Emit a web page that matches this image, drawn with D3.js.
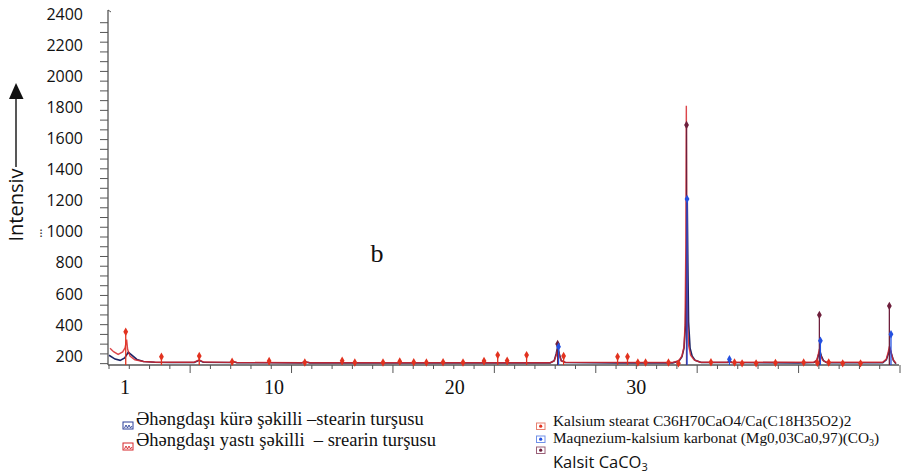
<!DOCTYPE html>
<html>
<head>
<meta charset="utf-8">
<script src="https://cdn.jsdelivr.net/npm/d3@7"></script>
<style>
  body { margin: 0; background: #fff; }
  svg { display: block; }
  .serif { font-family: "Liberation Serif", "Times New Roman", "DejaVu Serif", serif; }
  .sans { font-family: "Open Sans", "Noto Sans", sans-serif; }
</style>
</head>
<body>
<svg id="viz"></svg>
<script>
// 2θ positions / intensities
const kureX = [2.0, 2.6, 3.1, 3.55, 3.9, 4.25, 4.75, 5.4, 6.5, 8, 10.4, 10.9, 11.3, 14, 14.3, 14.6, 18, 21, 21.4, 21.8, 26, 30, 35, 40, 45.5, 45.9, 46.1, 46.25, 46.4, 46.6, 47, 52, 57.6, 58.2, 58.5, 58.7, 58.85, 58.95, 59.02, 59.08, 59.15, 59.3, 59.5, 59.8, 60.4, 63, 63.2, 63.4, 70, 71.5, 71.8, 71.95, 72.1, 72.25, 72.45, 72.8, 78.3, 78.65, 78.85, 79.0, 79.15, 79.35, 79.6];
const kureY = [205, 180, 172, 188, 224, 205, 178, 165, 160, 158, 158, 172, 160, 158, 163, 157, 157, 156, 161, 156, 156, 155, 156, 156, 156, 170, 215, 262, 215, 170, 158, 156, 156, 168, 195, 250, 400, 800, 1200, 800, 420, 250, 200, 172, 158, 158, 172, 158, 156, 158, 170, 205, 232, 200, 170, 157, 157, 175, 215, 250, 215, 172, 150];

const yastiX = [2.1, 2.45, 2.9, 3.35, 3.58, 3.74, 3.84, 4.07, 4.55, 5.4, 6.7, 8, 10.4, 10.9, 11.3, 14, 14.3, 14.6, 21, 21.4, 21.8, 26, 35, 45.5, 45.9, 46.1, 46.25, 46.4, 46.6, 47, 57.6, 58.2, 58.5, 58.7, 58.8, 58.88, 58.93, 58.98, 59.05, 59.15, 59.35, 59.7, 60.3, 71.5, 71.8, 71.95, 72.05, 72.15, 72.35, 72.7, 78.3, 78.65, 78.85, 78.95, 79.1, 79.3, 79.6];
const yastiY = [250, 228, 210, 226, 252, 305, 242, 200, 176, 165, 160, 160, 160, 176, 161, 159, 164, 158, 157, 162, 157, 157, 157, 157, 168, 205, 245, 205, 168, 159, 158, 170, 200, 260, 400, 900, 1810, 900, 420, 270, 205, 175, 160, 160, 175, 215, 245, 210, 175, 160, 160, 180, 230, 262, 230, 180, 152];

// reference lines
const stearatPos = [3.65, 7.17, 10.9, 14.14, 17.79, 21.31, 24.99, 26.24, 29.02, 30.67, 32.05, 33.3, 34.94, 36.91, 38.98, 40.33, 41.26, 43.18, 46.83, 52.15, 53.13, 54.15, 54.91, 57.17, 58.15, 61.36, 63.68, 64.43, 65.81, 67.72, 70.5, 71.85, 72.97, 74.35, 76.11];
const stearatInt = [356, 195, 200, 163, 168, 158, 170, 158, 158, 165, 160, 158, 160, 158, 168, 206, 170, 206, 200, 195, 195, 158, 158, 158, 153, 160, 158, 153, 153, 156, 158, 156, 158, 153, 153];
const mgPos = [46.33, 59.0, 63.18, 72.15, 79.11];
const mgInt = [260, 1210, 179, 298, 340];
const kalsitPos = [46.24, 58.95, 72.05, 78.95];
const kalsitInt = [277, 1686, 464, 522];

const yTickLabels = [200, 400, 600, 800, 1000, 1200, 1400, 1600, 1800, 2000, 2200, 2400];
const xTickLabels = ["1", "10", "20", "30"];
const xTickLabelPos = [3.59, 18.26, 36.09, 53.99];

const width = 903, height = 475;

const svg = d3.select("svg#viz")
	.attr("width", width)
	.attr("height", height);

const x = d3.scaleLinear().domain([2, 80]).range([109, 900]);
const y = d3.scaleLinear().domain([200, 2400]).range([356, 14]);
const baseY = 365;

// axes
const axisColor = "#555";
const axes = svg.append("g").attr("id", "axes");

axes.append("line")
	.attr("x1", 108).attr("x2", 108).attr("y1", 10).attr("y2", baseY)
	.attr("stroke", axisColor).attr("stroke-width", 1.3);
axes.append("line")
	.attr("x1", 108).attr("x2", 899).attr("y1", baseY).attr("y2", baseY)
	.attr("stroke", axisColor).attr("stroke-width", 1.3);
axes.append("line")
	.attr("x1", 108).attr("x2", 111).attr("y1", 10).attr("y2", 12)
	.attr("stroke", axisColor);

// y minor ticks (the underlying instrument scale, not the overlaid labels)
const yMinor = d3.range(2344, 140, -62.66);
axes.selectAll(".ytick").data(yMinor).join("line")
	.attr("class", "ytick")
	.attr("x1", 100).attr("x2", 108)
	.attr("y1", d => y(d)).attr("y2", d => y(d))
	.attr("stroke", axisColor);

const xMinor = d3.range(2, 80.1, 2);
axes.selectAll(".xtick").data(xMinor).join("line")
	.attr("class", "xtick")
	.attr("x1", d => x(d)).attr("x2", d => x(d))
	.attr("y1", baseY).attr("y2", d => d % 10 === 0 ? baseY + 8 : baseY + 4)
	.attr("stroke", axisColor);

axes.selectAll(".ylab").data(yTickLabels).join("text")
	.attr("class", "ylab sans")
	.attr("x", 83).attr("y", d => y(d))
	.attr("dy", "0.36em")
	.attr("text-anchor", "end")
	.attr("font-size", 16)
	.attr("fill", "#111")
	.text(d => d);

axes.append("text")
	.attr("x", 41).attr("y", y(1000) + 5)
	.attr("text-anchor", "middle")
	.attr("font-family", "DejaVu Sans")
	.attr("font-size", 13)
	.attr("fill", "#333")
	.text("⁝");

axes.selectAll(".xlab").data(xTickLabels).join("text")
	.attr("class", "xlab serif")
	.attr("x", (d, i) => x(xTickLabelPos[i]))
	.attr("y", 394)
	.attr("text-anchor", "middle")
	.attr("font-size", 20)
	.attr("fill", "#111")
	.text(d => d);

// Intensiv label with arrow
const ylab = svg.append("g").attr("id", "ylabel");
ylab.append("text")
	.attr("class", "sans")
	.attr("transform", "translate(23,205) rotate(-90)")
	.attr("text-anchor", "middle")
	.attr("font-size", 20)
	.attr("fill", "#111")
	.text("Intensiv");
ylab.append("line")
	.attr("x1", 16).attr("x2", 16).attr("y1", 167).attr("y2", 98)
	.attr("stroke", "#111").attr("stroke-width", 1.4);
ylab.append("path")
	.attr("d", "M16,83 L9,99 L23.5,99 Z")
	.attr("fill", "#111");

// patterns
const plot = svg.append("g").attr("id", "plot");
const line = d3.line().x(d => x(d[0])).y(d => y(d[1]));

plot.append("path")
	.datum(d3.zip(kureX, kureY))
	.attr("fill", "none")
	.attr("stroke", "#1c2566")
	.attr("stroke-width", 1.6)
	.attr("d", line);

plot.append("path")
	.datum(d3.zip(yastiX, yastiY))
	.attr("fill", "none")
	.attr("stroke", "#d6262b")
	.attr("stroke-width", 1.4)
	.attr("stroke-opacity", 0.85)
	.attr("d", line);

// reference sticks + markers
const refs = [
	{pos: kalsitPos, val: kalsitInt, color: "#6e1f3c"},
	{pos: mgPos, val: mgInt, color: "#2450e0"},
	{pos: stearatPos, val: stearatInt, color: "#e2321f"}
];
const diamond = d3.symbol().type(d3.symbolDiamond).size(20);

refs.forEach(r => {
	const g = plot.append("g");
	const pts = d3.zip(r.pos, r.val);
	g.selectAll("line").data(pts).join("line")
		.attr("x1", d => x(d[0])).attr("x2", d => x(d[0]))
		.attr("y1", baseY).attr("y2", d => y(d[1]))
		.attr("stroke", r.color).attr("stroke-width", 1.3);
	g.selectAll("path").data(pts).join("path")
		.attr("transform", d => `translate(${x(d[0])},${y(d[1])})`)
		.attr("d", diamond)
		.attr("fill", r.color);
});

svg.append("text")
	.attr("class", "serif")
	.attr("x", 377).attr("y", 262)
	.attr("text-anchor", "middle")
	.attr("font-size", 26)
	.attr("fill", "#111")
	.text("b");

// legend, left
const legL = svg.append("g").attr("id", "legend-left");
const leftItems = [
	{label: "Əhəngdaşı kürə şəkilli –stearin turşusu", color: "#2a3f9a", y: 425},
	{label: "Əhəngdaşı yastı şəkilli  – srearin turşusu", color: "#d6262b", y: 446}
];
leftItems.forEach(d => {
	legL.append("rect")
		.attr("x", 123).attr("y", d.y - 3).attr("width", 10).attr("height", 7)
		.attr("fill", "#fff").attr("stroke", d.color).attr("stroke-width", 1);
	legL.append("path")
		.attr("d", `M124.5,${d.y + 3} L126,${d.y} L127.5,${d.y + 3} L129,${d.y} L130.5,${d.y + 3} L132,${d.y + 1}`)
		.attr("fill", "none").attr("stroke", d.color).attr("stroke-width", 0.9);
	legL.append("text")
		.attr("class", "serif")
		.attr("x", 136).attr("y", d.y)
		.attr("font-size", 18.5)
		.attr("fill", "#111")
		.style("white-space", "pre")
		.text(d.label);
});

// legend, right
const legR = svg.append("g").attr("id", "legend-right");
const rightIcons = [
	{color: "#e2321f", border: "#e88070", y: 423},
	{color: "#2450e0", border: "#7090e8", y: 436},
	{color: "#6e1f3c", border: "#9a6078", y: 447}
];
rightIcons.forEach(d => {
	legR.append("rect")
		.attr("x", 536.5).attr("y", d.y).attr("width", 8.5).attr("height", 6.5)
		.attr("fill", "#fff").attr("stroke", d.border).attr("stroke-width", 1);
	legR.append("circle")
		.attr("cx", 540.7).attr("cy", d.y + 3.2).attr("r", 1.6)
		.attr("fill", d.color);
});
legR.append("text")
	.attr("class", "serif")
	.attr("x", 553).attr("y", 426)
	.attr("font-size", 15.4).attr("fill", "#111")
	.text("Kalsium stearat C36H70CaO4/Ca(C18H35O2)2");
const t2 = legR.append("text")
	.attr("class", "serif")
	.attr("x", 553).attr("y", 443)
	.attr("font-size", 15.3).attr("fill", "#111");
t2.append("tspan").text("Maqnezium-kalsium karbonat (Mg0,03Ca0,97)(CO");
t2.append("tspan").attr("font-size", 10).attr("dy", 3).text("3");
t2.append("tspan").attr("dy", -3).text(")");
const t3 = legR.append("text")
	.attr("class", "sans")
	.attr("x", 553).attr("y", 468)
	.attr("font-size", 16.5).attr("fill", "#111");
t3.append("tspan").text("Kalsit CaCO");
t3.append("tspan").attr("font-size", 11).attr("dy", 3).text("3");
</script>
</body>
</html>
